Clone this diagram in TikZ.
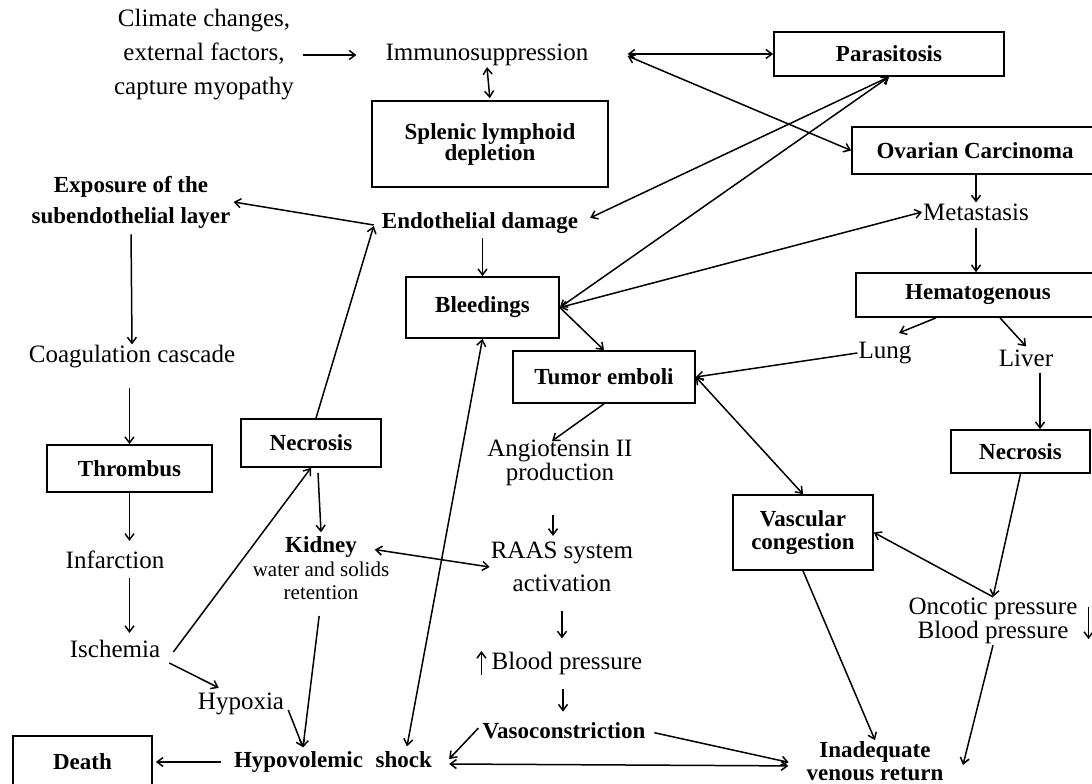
\documentclass[tikz,border=0pt]{standalone}
\usepackage{fontspec}
\setmainfont{Liberation Serif}
\usetikzlibrary{arrows.meta,calc}
\begin{document}
\begin{tikzpicture}[x=1pt,y=-1pt,
  box/.style={draw,line width=1.7pt,inner sep=0pt,font=\fontsize{23}{21}\selectfont\bfseries,align=center},
  rt/.style={inner sep=1pt,font=\fontsize{25}{28}\selectfont,align=center},
  bt/.style={inner sep=1pt,font=\fontsize{23}{24}\selectfont\bfseries,align=center},
  tip/.tip={Straight Barb[length=6pt,width=9pt,line width=1.5pt]},
  arr/.style={line width=1.5pt,-tip},
  darr/.style={line width=1.5pt,tip-tip}]
\useasboundingbox (0,0) rectangle (1092,784);
\fill[white] (0,0) rectangle (1092,784);
% boxes
\node[box,minimum width=236,minimum height=86] (splen) at (490,144) {Splenic lymphoid\\depletion};
\node[box,minimum width=230,minimum height=44] (para) at (889,54) {Parasitosis};
\node[box,minimum width=246,minimum height=47] (ovar) at (975,150.5) {Ovarian Carcinoma};
\node[box,minimum width=244,minimum height=44] (hema) at (978,295) {Hematogenous};
\node[box,minimum width=139,minimum height=43] (necR) at (1020.5,451.5) {Necrosis};
\node[box,minimum width=140,minimum height=75,font=\fontsize{23}{23}\selectfont\bfseries] (vasc) at (803,532.5) {Vascular\\congestion};
\node[box,minimum width=182,minimum height=52] (tumor) at (604,377) {Tumor emboli};
\node[box,minimum width=153,minimum height=61] (bleed) at (482.5,307.5) {Bleedings};
\node[box,minimum width=140,minimum height=48] (necL) at (311,443) {Necrosis};
\node[box,minimum width=165,minimum height=47] (thromb) at (129.5,468.5) {Thrombus};
\node[box,minimum width=139,minimum height=52] (death) at (82.5,762) {Death};
% text nodes
\node[rt,font=\fontsize{25}{34}\selectfont] (climate) at (204,55) {Climate changes,\\external factors,\\capture myopathy};
\node[rt] (immuno) at (487,55) {Immunosuppression};
\node[rt] (meta) at (976,212) {Metastasis};
\node[rt] (lung) at (885,353) {Lung};
\node[rt] (liver) at (1026,358) {Liver};
\node[rt,font=\fontsize{25}{24}\selectfont] (onco) at (993,621) {Oncotic pressure\\Blood pressure};
\node[bt] (endo) at (480,223) {Endothelial damage};
\node[bt,font=\fontsize{23}{31}\selectfont\bfseries] (expo) at (131,202) {Exposure of the\\subendothelial layer};
\node[rt] (coag) at (132,357) {Coagulation cascade};
\node[rt] (infarc) at (115,560) {Infarction};
\node[rt] (isch) at (115,649) {Ischemia};
\node[rt] (hypox) at (241,704) {Hypoxia};
\node[bt] (kidney) at (321,547) {Kidney};
\node[rt,font=\fontsize{21}{23}\selectfont] (kidsub) at (321,581) {water and solids\\retention};
\node[bt] (hypov) at (333,762) {Hypovolemic\hspace{0.3em} shock};
\node[rt,font=\fontsize{25}{21}\selectfont] (angio) at (560,463) {Angiotensin II\\production};
\node[rt,font=\fontsize{25}{33}\selectfont] (raas) at (562,567) {RAAS system\\activation};
\node[rt] (bp) at (567,663) {Blood pressure};
\node[bt] (vaso) at (564,731) {Vasoconstriction};
\node[bt,font=\fontsize{23}{23}\selectfont\bfseries] (inad) at (875,761) {Inadequate\\venous return};
% connectors
\draw[arr,shorten <=8pt,shorten >=28pt] (climate.east) -- (immuno.west);
\draw[darr,shorten >=2pt] (immuno.south) -- (splen.north);
\draw[darr] ($(immuno.east)+(38,-1)$) -- (para.west);
\draw[darr] ($(immuno.east)+(38,1)$) -- (ovar.west);
\draw[darr,shorten >=12pt] (para.south) -- (endo.east);
\draw[darr] (para.south) -- (bleed.east);
\draw[darr] (meta.west) -- (bleed.east);
\draw[arr] (ovar.south -| meta.north) -- (meta.north);
\draw[arr,shorten <=6pt] (meta.south) -- (meta.south |- hema.north);
\draw[arr] ($(hema.south)+(-42,0)$) -- ($(lung.north)+(14,-8)$);
\draw[arr] ($(hema.south)+(22,0)$) -- ($(liver.north)+(0,-2)$);
\draw[arr] ($(liver.south)+(14,5)$) -- ($(necR.north)+(19.5,0)$);
\draw[arr] (necR.south) -- (onco.north);
\draw[arr] (onco.north) -- (vasc.east);
\draw[darr] (tumor.east) -- (vasc.north);
\draw[arr] (lung.west) -- (tumor.east);
\draw[arr] (bleed.east) -- (tumor.north);
\draw[arr,shorten <=3pt] (endo.south -| bleed.north) -- (bleed.north);
\draw[darr] (bleed.south) -- ($(hypov.north)+(74,-4)$);
\draw[arr] ($(vaso.west)+(-3,-3)$) -- ($(hypov.east)+(16,-3)$);
\draw[darr,shorten >=17pt] ($(hypov.east)+(16,2)$) -- ($(inad.west)+(0,5)$);
\draw[arr,shorten <=8pt,shorten >=17pt] (vaso.east) -- ($(inad.west)+(0,5)$);
\draw[arr] (vasc.south) -- (inad.north);
\draw[arr] (onco.south) -- ($(inad.center)+(88,4)$);
\draw[arr] (tumor.south) -- ($(angio.north)+(-8,2)$);
\draw[arr,shorten <=28pt,shorten >=5pt] ($(angio.south)+(-7,0)$) -- ($(raas.north)+(-9,0)$);
\draw[arr,shorten <=18pt,shorten >=12pt] (raas.south) -- ($(bp.north)+(-5,0)$);
\draw[arr,shorten <=13pt,shorten >=10pt] ($(bp.south)+(-4,0)$) -- ($(vaso.north)+(-1,0)$);
\draw[arr] ($(bp.west)+(-9,12)$) -- ($(bp.west)+(-9,-12)$);
\draw[arr] ($(onco.east)+(10,-14)$) -- ($(onco.east)+(10,18)$);
\draw[darr,shorten <=17pt] (kidney.east) -- (raas.west);
\draw[arr] ($(necL.south)+(7,5)$) -- ($(kidney.north)+(0,-3)$);
\draw[arr,shorten <=15pt] (kidsub.south) -- ($(hypov.north)+(-30,-3)$);
\draw[arr] ($(hypox.east)+(3,6)$) -- ($(hypov.north)+(-30,-3)$);
\draw[arr] ($(isch.south east)+(8,4)$) -- ($(hypox.north west)+(22,-4)$);
\draw[arr] ($(isch.east)+(12,3)$) -- (necL.south);
\draw[arr] ($(necL.north)+(5,0)$) -- ($(endo.west)+(-7,3)$);
\draw[arr] ($(endo.west)+(-7,2)$) -- ($(expo.east)+(2,0)$);
\draw[arr,shorten <=5pt] (expo.south) -- (coag.north);
\draw[arr,shorten <=18pt] (coag.south -| thromb.north) -- (thromb.north);
\draw[arr,shorten >=9pt] (thromb.south) -- (thromb.south |- infarc.north);
\draw[arr,shorten <=8pt,shorten >=6pt] (infarc.south -| thromb.south) -- (thromb.south |- isch.north);
\draw[arr,shorten <=12pt,shorten >=3pt] (hypov.west) -- (death.east);
\end{tikzpicture}
\end{document}
